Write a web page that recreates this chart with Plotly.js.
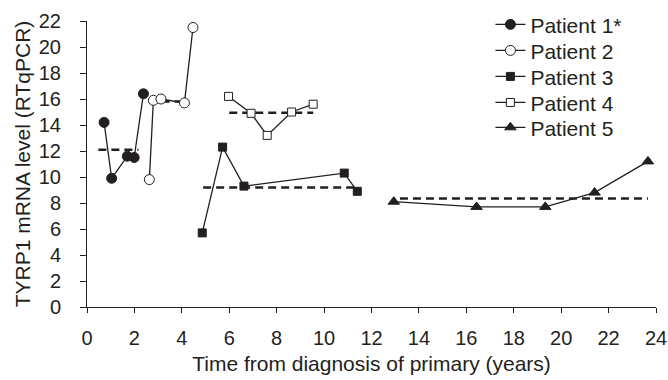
<!DOCTYPE html>
<html>
<head>
<meta charset="utf-8">
<script src="https://cdn.plot.ly/plotly-3.0.1.min.js"></script>
<style>html,body{margin:0;padding:0;background:#fff;}#chart{width:668px;height:380px;}</style>
</head>
<body>
<div id="chart"></div>
<script>
// Measured data (years from diagnosis, TYRP1 mRNA level)
const p1x = [0.72, 1.04, 1.70, 1.99, 2.38];
const p1y = [14.2, 9.9, 11.6, 11.5, 16.4];
const p2x = [2.63, 2.80, 3.12, 4.11, 4.47];
const p2y = [9.8, 15.9, 16.0, 15.7, 21.5];
const p3x = [4.86, 5.72, 6.62, 10.85, 11.40];
const p3y = [5.7, 12.3, 9.3, 10.3, 8.9];
const p4x = [5.97, 6.92, 7.60, 8.63, 9.54];
const p4y = [16.2, 14.9, 13.2, 15.0, 15.6];
const p5x = [12.94, 16.43, 19.33, 21.41, 23.66];
const p5y = [8.1, 7.7, 7.7, 8.8, 11.2];
// Mean level lines (start, end, level)
const meanStart = [0.48, 2.6, 4.9, 6.0, 13.2];
const meanEnd = [2.17, 4.2, 11.37, 9.54, 23.66];
const meanLevel = [12.1, 15.8, 9.2, 14.95, 8.35];
const names = ['Patient 1*', 'Patient 2', 'Patient 3', 'Patient 4', 'Patient 5'];

const ink = '#231f20';
const xs = [p1x, p2x, p3x, p4x, p5x];
const ys = [p1y, p2y, p3y, p4y, p5y];
const symbols = ['circle', 'circle', 'square', 'square', 'triangle-up'];
const fills = [ink, '#ffffff', ink, '#ffffff', ink];
const sizes = [10, 10, 8, 8, 10];
const legendIds = ['legend', 'legend2', 'legend3', 'legend4', 'legend5'];
const legendY = [0.987, 0.896, 0.805, 0.714, 0.627];

const traces = [];
for (let i = 0; i < 5; i++) {
  traces.push({
    x: [meanStart[i], meanEnd[i]], y: [meanLevel[i], meanLevel[i]],
    mode: 'lines', showlegend: false, hoverinfo: 'skip',
    line: {color: ink, width: 2.5, dash: '8px,5px'}
  });
}
for (let i = 0; i < 5; i++) {
  traces.push({
    x: xs[i], y: ys[i], name: names[i], mode: 'lines+markers',
    legend: legendIds[i],
    line: {color: ink, width: 1.3},
    marker: {symbol: symbols[i], size: sizes[i], color: fills[i], line: {color: ink, width: 1}}
  });
}

const layout = {
  width: 668, height: 380,
  margin: {l: 87, r: 11.5, t: 20.7, b: 73.3, autoexpand: false},
  paper_bgcolor: '#fff', plot_bgcolor: '#fff',
  font: {family: 'Liberation Sans, Arial, sans-serif', size: 20, color: ink},
  showlegend: true,
  xaxis: {
    range: [0, 24], tickvals: [0,2,4,6,8,10,12,14,16,18,20,22,24],
    ticks: 'outside', ticklen: 5, tickwidth: 1, tickcolor: ink, ticklabelstandoff: 8,
    showline: true, linecolor: ink, linewidth: 1, showgrid: false, zeroline: false,
    title: {text: 'Time from diagnosis of primary (years)', font: {size: 21}, standoff: 8}
  },
  yaxis: {
    range: [0, 22], tickvals: [0,2,4,6,8,10,12,14,16,18,20,22],
    ticks: 'outside', ticklen: 6, tickwidth: 1, tickcolor: ink, ticklabelstandoff: 15,
    showline: true, linecolor: ink, linewidth: 1, showgrid: false, zeroline: false,
    title: {text: 'TYRP1 mRNA level (RTqPCR)', font: {size: 21}, standoff: 2}
  }
};
for (let i = 0; i < 5; i++) {
  layout[legendIds[i]] = {
    x: 0.709, y: legendY[i], xanchor: 'left', yanchor: 'middle', itemwidth: 30,
    font: {size: 21, color: ink}, bgcolor: 'rgba(0,0,0,0)', borderwidth: 0
  };
}
Plotly.newPlot('chart', traces, layout, {displayModeBar: false, staticPlot: true});
</script>
</body>
</html>
